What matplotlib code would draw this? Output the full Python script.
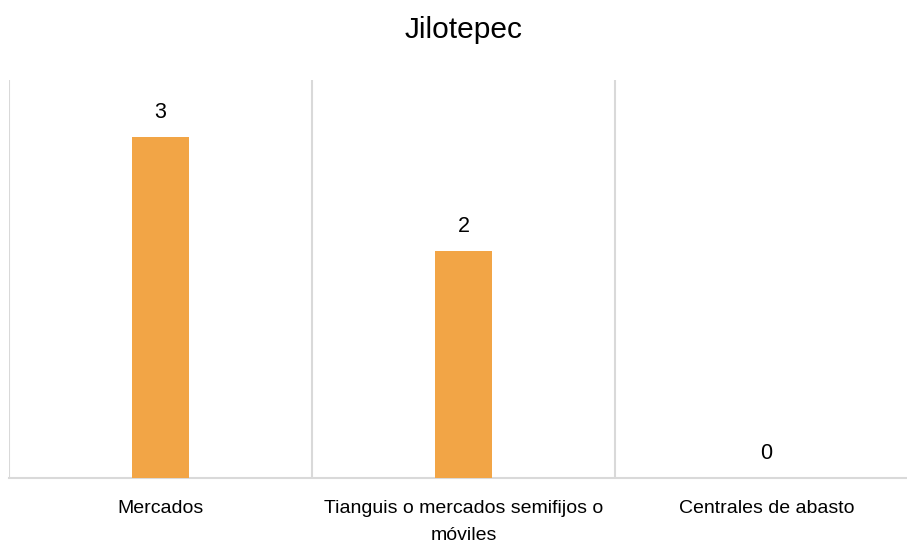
import matplotlib.pyplot as plt
from matplotlib import font_manager

categories = ["Mercados", "Tianguis o mercados semifijos o\nmóviles", "Centrales de abasto"]
values = [3, 2, 0]
title = "Jilotepec"

names = {f.name for f in font_manager.fontManager.ttflist}
fam = ["Liberation Sans Narrow", "Liberation Sans", "DejaVu Sans"]
plt.rcParams['font.family'] = [f for f in fam if f in names] or ["DejaVu Sans"]

W, H = 907, 543
fig = plt.figure(figsize=(W / 100, H / 100), dpi=100)
# plot area runs off the right edge like in the source
ax = fig.add_axes([9 / W, 1 - 478 / H, 909 / W, 398 / H])

x = list(range(len(categories)))
ax.bar(x, values, width=0.185, color="#F2A546", zorder=3)
for xi, v in zip(x, values):
    ax.annotate(str(v), (xi, v), xytext=(0, 10), textcoords="offset points",
                ha="center", va="bottom", fontsize=15.5, color="#000000")

ax.set_xlim(-0.5, len(categories) - 0.5)
ax.set_ylim(0, 3.5)
ax.set_yticks([])
ax.set_xticks(x)
ax.set_xticklabels(categories, fontsize=14, linespacing=1.75)
ax.tick_params(axis="x", length=0, pad=16)
for s in ["top", "right", "left"]:
    ax.spines[s].set_visible(False)
ax.spines["bottom"].set_color("#D9D9D9")
ax.spines["bottom"].set_linewidth(1.5)
for b in [-0.5, 0.5, 1.5, 2.5]:
    ax.axvline(b, color="#D9D9D9", lw=1.5, zorder=1)

fig.text(464 / W, 1 - 30 / H, title, ha="center", va="center", fontsize=21.5)

fig.savefig("out.png", dpi=100)
